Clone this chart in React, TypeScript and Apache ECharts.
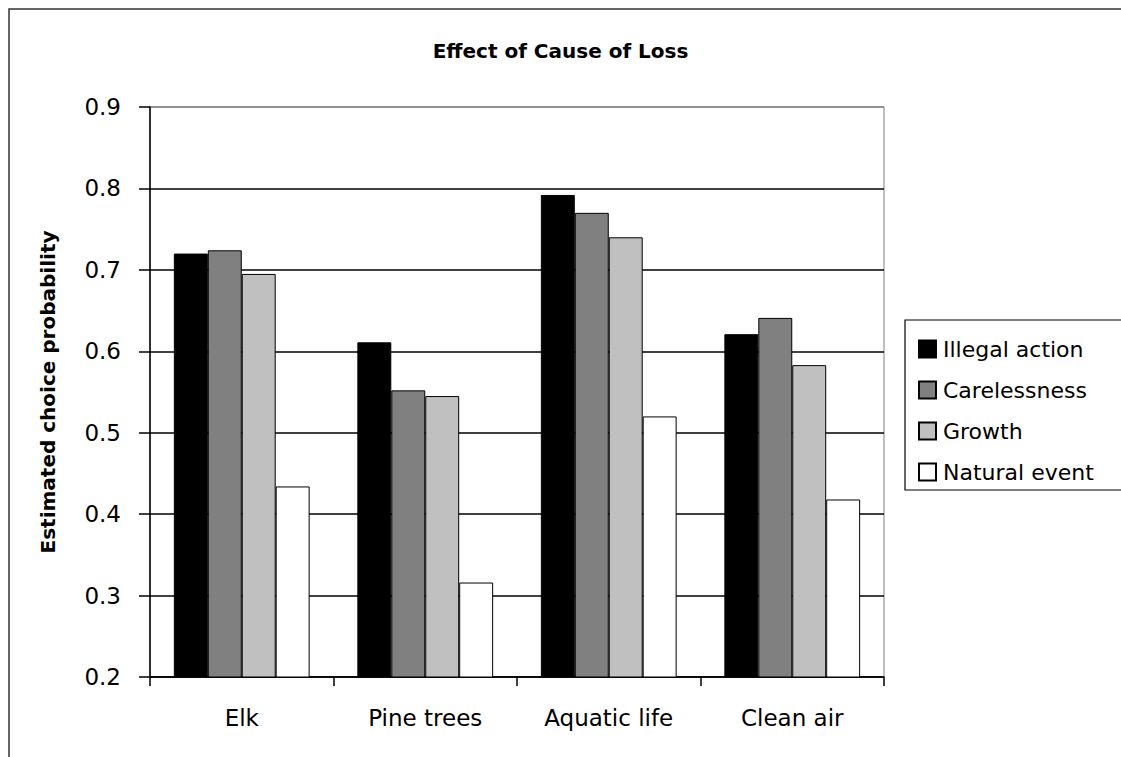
import React, { useEffect, useRef } from "react";
import * as echarts from "echarts";

const categories = ["Elk", "Pine trees", "Aquatic life", "Clean air"];
const seriesNames = ["Illegal action", "Carelessness", "Growth", "Natural event"];
const illegalAction = [0.72, 0.611, 0.792, 0.621];
const carelessness = [0.724, 0.552, 0.77, 0.641];
const growth = [0.695, 0.545, 0.74, 0.583];
const naturalEvent = [0.434, 0.316, 0.52, 0.418];
const seriesColors = ["#000000", "#808080", "#c0c0c0", "#ffffff"];
const yTicks = [0.2, 0.3, 0.4, 0.5, 0.6, 0.7, 0.8, 0.9];

const FONT = "DejaVu Sans";

export default function App() {
  const ref = useRef<HTMLDivElement>(null);
  useEffect(() => {
    if (!ref.current) return;
    const chart = echarts.init(ref.current, undefined, { renderer: "svg" });
    const values = [illegalAction, carelessness, growth, naturalEvent];
    const option: any = {
      animation: false,
      backgroundColor: "#ffffff",
      title: {
        text: "Effect of Cause of Loss",
        left: "center",
        top: 36,
        textStyle: { fontFamily: FONT, fontSize: 20, fontWeight: "bold", color: "#000" },
      },
      graphic: [
        {
          type: "rect",
          shape: { x: 9, y: 9, width: 1300, height: 900 },
          style: { fill: "none", stroke: "#333", lineWidth: 1.5 },
          silent: true,
          z: -1,
        },
        {
          type: "rect",
          shape: { x: 905, y: 320, width: 400, height: 170 },
          style: { fill: "#fff", stroke: "#000", lineWidth: 1.2 },
          silent: true,
          z: 0,
        },
      ],
      legend: {
        orient: "vertical",
        left: 913,
        top: 333,
        itemWidth: 17,
        itemHeight: 17,
        itemGap: 19,
        icon: "rect",
        z: 5,
        textStyle: { fontFamily: FONT, fontSize: 22, color: "#000", padding: [0, 0, 0, 2] },
        data: seriesNames,
      },
      grid: {
        left: 150,
        top: 107,
        right: 237,
        bottom: 80,
        show: true,
        borderColor: "#808080",
        borderWidth: 1,
        backgroundColor: "#fff",
      },
      xAxis: {
        type: "category",
        data: categories,
        axisLine: { lineStyle: { color: "#000", width: 1.5 } },
        axisTick: { show: true, length: 9, interval: 0, lineStyle: { color: "#000", width: 1.5 } },
        axisLabel: { fontFamily: FONT, fontSize: 23, color: "#000", margin: 29 },
      },
      yAxis: {
        type: "value",
        min: yTicks[0],
        max: yTicks[yTicks.length - 1],
        interval: 0.1,
        name: "Estimated choice probability",
        nameLocation: "middle",
        nameGap: 92,
        nameTextStyle: { fontFamily: FONT, fontSize: 20, fontWeight: "bold", color: "#000" },
        axisLine: { show: true, lineStyle: { color: "#000", width: 1.5 } },
        axisTick: { show: true, length: 11, lineStyle: { color: "#000", width: 1.5 } },
        axisLabel: {
          fontFamily: FONT,
          fontSize: 23,
          color: "#000",
          margin: 29,
          formatter: (v: number) => v.toFixed(1),
        },
        splitLine: {
          show: true,
          lineStyle: {
            color: ["#000", "#000", "#000", "#000", "#000", "#000", "#000", "#808080"],
            width: 1.5,
          },
        },
      },
      series: seriesNames.map((name, i) => ({
        name,
        type: "bar",
        data: values[i],
        barGap: "0%",
        barCategoryGap: "26%",
        itemStyle: { color: seriesColors[i], borderColor: "#000", borderWidth: 1 },
      })),
    };
    chart.setOption(option);
    return () => chart.dispose();
  }, []);
  return (
    <div
      ref={ref}
      style={{ position: "fixed", left: 0, top: 0, width: 1121, height: 757 }}
    />
  );
}
